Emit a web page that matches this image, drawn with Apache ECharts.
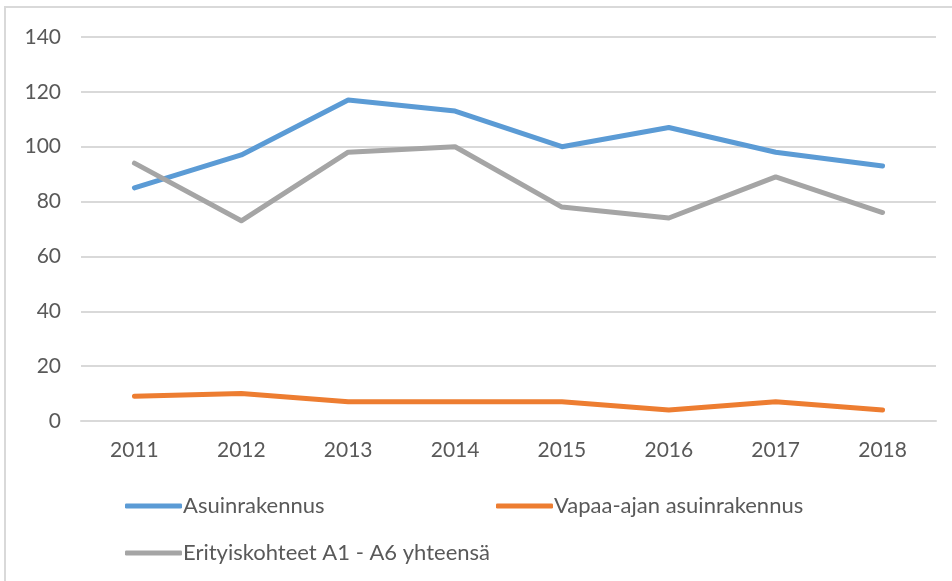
<!DOCTYPE html>
<html>
<head>
	<meta charset="utf-8" />
	<title>Line chart</title>
	<script type="text/javascript" src="https://cdn.jsdelivr.net/npm/echarts@6/dist/echarts.min.js"></script>
	<style>
		html, body { margin: 0; padding: 0; background: #fff; }
		#chart { width: 952px; height: 581px; }
	</style>
</head>
<body>
	<div id="chart"></div>
	<script type="text/javascript">
		var years = ['2011', '2012', '2013', '2014', '2015', '2016', '2017', '2018'];
		var asuin = [85, 97, 117, 113, 100, 107, 98, 93];
		var vapaa = [9, 10, 7, 7, 7, 4, 7, 4];
		var erityis = [94, 73, 98, 100, 78, 74, 89, 76];
		var yTicks = [0, 20, 40, 60, 80, 100, 120, 140];

		var font = 'Lato, "Open Sans", sans-serif';
		var textCol = '#595959';

		function legendAt(name, left, top) {
			return {
				data: [name],
				left: left,
				top: top,
				itemWidth: 57,
				itemHeight: 5,
				icon: 'roundRect',
				itemStyle: { borderWidth: 0 },
				lineStyle: { width: 5, cap: 'round' },
				textStyle: { fontFamily: font, fontSize: 22, color: textCol, padding: [0, 0, 0, -4] },
				selectedMode: false
			};
		}

		var chart = echarts.init(document.getElementById('chart'), null, { renderer: 'canvas' });
		chart.setOption({
			animation: false,
			backgroundColor: '#fff',
			graphic: [{
				type: 'rect',
				shape: { x: 5, y: 7, width: 960, height: 600 },
				style: { fill: 'none', stroke: '#d9d9d9', lineWidth: 2 },
				silent: true
			}],
			grid: { left: 81, right: 16, top: 37, bottom: 160 },
			legend: [
				legendAt('Asuinrakennus', 120, 490),
				legendAt('Vapaa-ajan asuinrakennus', 491, 490),
				legendAt('Erityiskohteet A1 - A6 yhteensä', 120, 537)
			],
			xAxis: {
				type: 'category',
				data: years,
				boundaryGap: true,
				axisLine: { show: true, lineStyle: { color: '#d9d9d9', width: 2 } },
				axisTick: { show: false },
				axisLabel: { fontFamily: font, fontSize: 21, color: textCol, margin: 19 }
			},
			yAxis: {
				type: 'value',
				min: yTicks[0],
				max: yTicks[yTicks.length - 1],
				interval: 20,
				axisLine: { show: false },
				axisTick: { show: false },
				splitLine: { lineStyle: { color: '#d9d9d9', width: 2 } },
				axisLabel: { fontFamily: font, fontSize: 21, color: textCol, margin: 20 }
			},
			series: [
				{
					name: 'Asuinrakennus', type: 'line', data: asuin,
					showSymbol: false, symbol: 'none',
					lineStyle: { color: '#5b9bd5', width: 5, cap: 'round', join: 'round' },
					itemStyle: { color: '#5b9bd5' }
				},
				{
					name: 'Vapaa-ajan asuinrakennus', type: 'line', data: vapaa,
					showSymbol: false, symbol: 'none',
					lineStyle: { color: '#ed7d31', width: 5, cap: 'round', join: 'round' },
					itemStyle: { color: '#ed7d31' }
				},
				{
					name: 'Erityiskohteet A1 - A6 yhteensä', type: 'line', data: erityis,
					showSymbol: false, symbol: 'none',
					lineStyle: { color: '#a5a5a5', width: 5, cap: 'round', join: 'round' },
					itemStyle: { color: '#a5a5a5' }
				}
			]
		});
	</script>
</body>
</html>
